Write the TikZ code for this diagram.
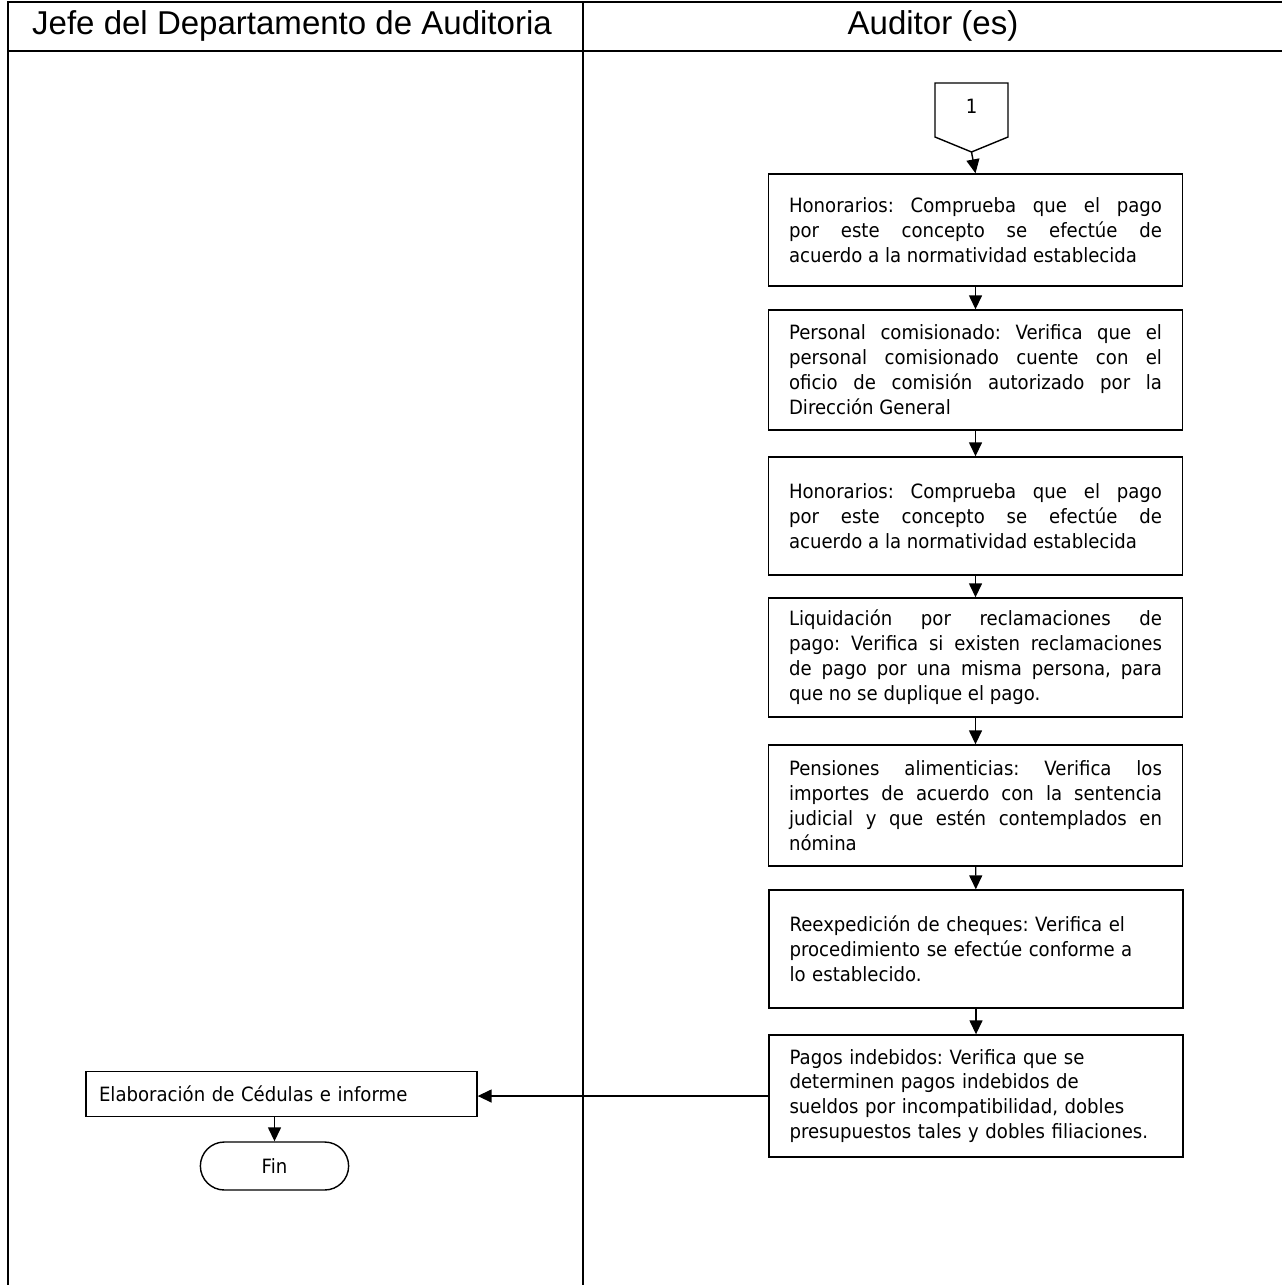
\documentclass[tikz,border=0pt]{standalone}
\usepackage{fontspec}
\setmainfont{DejaVu Sans}[FakeStretch=0.92]
\newfontfamily\headfont{Liberation Sans}
\usetikzlibrary{arrows.meta,shapes.misc}

\begin{document}
\frenchspacing
\begin{tikzpicture}[x=0.02cm, y=-0.02cm,
  every node/.style={font=\fontsize{11.2}{14.2}\selectfont},
  lane/.style={line width=1pt, black},
  lanehead/.style={font=\headfont\fontsize{18.8}{22}\selectfont},
  paso/.style={draw, line width=0.8pt, text width=7.46cm, inner xsep=0.41cm, align=justify},
  pasol/.style={paso, align=left},
  flecha/.style={line width=0.8pt, -{Triangle[length=0.28cm, width=0.26cm]}}]
  \useasboundingbox (0,0) rectangle (1282,1285);
  % swimlanes
  \draw[lane] (8,1285) -- (8,2) -- (1282,2);
  \draw[lane] (8,51) -- (1282,51);
  \draw[lane] (583,2) -- (583,1285);
  \node[lanehead] (jefe) at (292,26) {Jefe del Departamento de Auditoria};
  \node[lanehead] (auditor) at (933,26) {Auditor (es)};
  % off-page connector 1
  \draw[line width=0.8pt] (935,83) -- (1008,83) -- (1008,137) -- (971.5,152) -- (935,137) -- cycle;
  \node (con) at (971.5,106) {1};
  \coordinate (conpt) at (971.5,152);
  % Auditor steps
  \node[paso, minimum height=2.24cm] (b1) at (975.5,230)
    {Honorarios: Comprueba que el pago\linebreak por este concepto se efectúe de\linebreak acuerdo a la normatividad establecida};
  \node[paso, minimum height=2.4cm] (b2) at (975.5,370)
    {Personal comisionado: Verifica que el\linebreak personal comisionado cuente con el\linebreak oficio de comisión autorizado por la\linebreak Dirección General};
  \node[paso, minimum height=2.36cm] (b3) at (975.5,516)
    {Honorarios: Comprueba que el pago\linebreak por este concepto se efectúe de\linebreak acuerdo a la normatividad establecida};
  \node[paso, minimum height=2.38cm] (b4) at (975.5,657.5)
    {Liquidación por reclamaciones de\linebreak pago: Verifica si existen reclamaciones\linebreak de pago por una misma persona, para\linebreak que no se duplique el pago.};
  \node[paso, minimum height=2.42cm] (b5) at (975.5,805.5)
    {Pensiones alimenticias: Verifica los\linebreak importes de acuerdo con la sentencia\linebreak judicial y que estén contemplados en\linebreak nómina};
  \node[pasol, minimum height=2.36cm] (b6) at (976,949)
    {Reexpedición de cheques: Verifica el\\ procedimiento se efectúe conforme a\\ lo establecido.};
  \node[pasol, minimum height=2.44cm] (b7) at (976,1096)
    {Pagos indebidos: Verifica que se\\ determinen pagos indebidos de\\ sueldos por incompatibilidad, dobles\\ presupuestos tales y dobles filiaciones.};
  % Jefe steps
  \node[draw, line width=0.8pt, text width=7.3cm, inner xsep=0.26cm, minimum height=0.9cm, align=left]
    (elab) at (281.5,1094) {Elaboración de Cédulas e informe};
  \node[draw, line width=0.8pt, rounded rectangle, minimum width=3.2cm, minimum height=0.96cm]
    (fin) at (274.5,1166) {Fin};
  % flow
  \draw[flecha] (conpt) -- (b1.north);
  \draw[flecha] (b1) -- (b2);
  \draw[flecha] (b2) -- (b3);
  \draw[flecha] (b3) -- (b4);
  \draw[flecha] (b4) -- (b5);
  \draw[flecha] (b5) -- (b6);
  \draw[flecha] (b6) -- (b7);
  \draw[flecha] (b7.west) -- (b7.west -| elab.east);
  \draw[flecha] (elab.south -| fin.north) -- (fin.north);
\end{tikzpicture}
\end{document}
